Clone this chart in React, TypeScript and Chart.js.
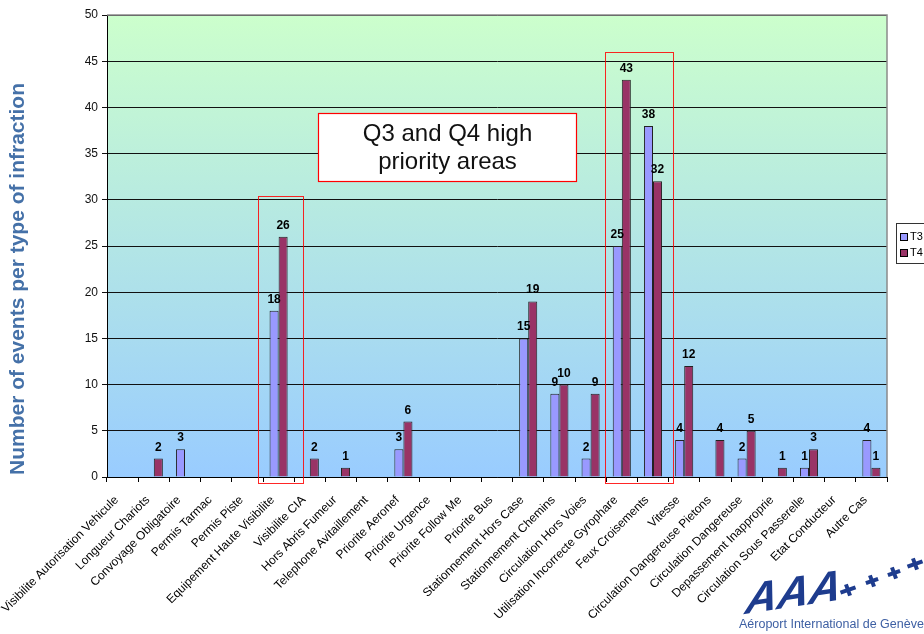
import React, { useEffect, useRef } from "react";
import { Chart, registerables } from "chart.js";

Chart.register(...registerables);

const categories = [
  "Visibilite Autorisation Vehicule",
  "Longueur Chariots",
  "Convoyage Obligatoire",
  "Permis Tarmac",
  "Permis Piste",
  "Equipement Haute Visibilite",
  "Visibilite CIA",
  "Hors Abris Fumeur",
  "Telephone Avitaillement",
  "Priorite Aeronef",
  "Priorite Urgence",
  "Priorite Follow Me",
  "Priorite Bus",
  "Stationnement Hors Case",
  "Stationnement Chemins",
  "Circulation Hors Voies",
  "Utilisation Incorrecte Gyrophare",
  "Feux Croisements",
  "Vitesse",
  "Circulation Dangereuse Pietons",
  "Circulation Dangereuse",
  "Depassement Inapproprie",
  "Circulation Sous Passerelle",
  "Etat Conducteur",
  "Autre Cas",
];

const t3Values = [0, 0, 3, 0, 0, 18, 0, 0, 0, 3, 0, 0, 0, 15, 9, 2, 25, 38, 4, 0, 2, 0, 1, 0, 4];
const t4Values = [0, 2, 0, 0, 0, 26, 2, 1, 0, 6, 0, 0, 0, 19, 10, 9, 43, 32, 12, 4, 5, 1, 3, 0, 1];

const seriesNames = ["T3", "T4"];
const yMin = 0;
const yMax = 50;
const yStep = 5;

const yTitle = "Number of events per type of infraction";
const noteLines = ["Q3 and Q4 high", "priority areas"];
const logoCaption = "Aéroport International de Genève";

// highlight boxes: [fromIndex, toIndex, topValue]
const highlightFrom = [4.34, 15.46];
const highlightTo = [5.78, 17.64];
const highlightTop = [30.4, 46.0];
const highlightBottom = -0.65;

const FONT = "'Liberation Sans', Arial, sans-serif";

const decorPlugin = {
  id: "decor",
  beforeDraw(chart: any) {
    const { ctx, chartArea } = chart;
    const { left, top, right, bottom } = chartArea;
    const g = ctx.createLinearGradient(0, top, 0, bottom);
    g.addColorStop(0, "#CCFFCC");
    g.addColorStop(1, "#99CCFF");
    ctx.save();
    ctx.fillStyle = "#ffffff";
    ctx.fillRect(0, 0, chart.width, chart.height);
    ctx.fillStyle = g;
    ctx.fillRect(left, top, right - left, bottom - top);
    ctx.restore();
  },
  afterDatasetsDraw(chart: any) {
    const { ctx, chartArea } = chart;
    const xs = chart.scales.x;
    const ys = chart.scales.y;
    ctx.save();
    // right & top border
    ctx.strokeStyle = "#8a8a8a";
    ctx.lineWidth = 1.5;
    ctx.beginPath();
    ctx.moveTo(chartArea.left, chartArea.top);
    ctx.lineTo(chartArea.right, chartArea.top);
    ctx.lineTo(chartArea.right, chartArea.bottom);
    ctx.stroke();

    // value labels
    ctx.fillStyle = "#000";
    ctx.font = `bold 12px ${FONT}`;
    ctx.textAlign = "center";
    ctx.textBaseline = "alphabetic";
    chart.data.datasets.forEach((ds: any, di: number) => {
      const meta = chart.getDatasetMeta(di);
      meta.data.forEach((bar: any, i: number) => {
        const v = ds.data[i];
        if (v > 0) ctx.fillText(String(v), bar.x, bar.y - 8);
      });
    });

    // highlight boxes
    ctx.strokeStyle = "rgba(255,0,0,0.85)";
    ctx.lineWidth = 1;
    for (let k = 0; k < highlightFrom.length; k++) {
      const x1 = Math.round(xs.getPixelForValue(highlightFrom[k])) + 0.5;
      const x2 = Math.round(xs.getPixelForValue(highlightTo[k])) + 0.5;
      const y1 = Math.round(ys.getPixelForValue(highlightTop[k])) + 0.5;
      const y2 = Math.round(ys.getPixelForValue(highlightBottom)) + 0.5;
      ctx.strokeRect(x1, y1, x2 - x1, y2 - y1);
    }

    // note box
    const nx1 = Math.round(xs.getPixelForValue(6.26)) + 0.5;
    const nx2 = Math.round(xs.getPixelForValue(14.53)) + 0.5;
    const ny1 = Math.round(ys.getPixelForValue(39.4)) + 0.5;
    const ny2 = Math.round(ys.getPixelForValue(32.0)) + 0.5;
    ctx.fillStyle = "#ffffff";
    ctx.fillRect(nx1, ny1, nx2 - nx1, ny2 - ny1);
    ctx.strokeStyle = "#ff0000";
    ctx.lineWidth = 1.2;
    ctx.strokeRect(nx1, ny1, nx2 - nx1, ny2 - ny1);
    ctx.fillStyle = "#111";
    ctx.font = `24px ${FONT}`;
    ctx.textAlign = "center";
    ctx.textBaseline = "middle";
    const cx = (nx1 + nx2) / 2;
    const cy = (ny1 + ny2) / 2;
    ctx.fillText(noteLines[0], cx, cy - 13);
    ctx.fillText(noteLines[1], cx, cy + 15);
    ctx.restore();
  },
  afterDraw(chart: any) {
    const { ctx } = chart;
    ctx.save();
    // y title
    ctx.translate(18, 279);
    ctx.rotate(-Math.PI / 2);
    ctx.fillStyle = "#4571A8";
    ctx.font = `bold 21px ${FONT}`;
    ctx.textAlign = "center";
    ctx.textBaseline = "middle";
    ctx.fillText(yTitle, 0, 0);
    ctx.restore();

    // legend (partly cut by right edge)
    ctx.save();
    const lx = 896.5, ly = 223.5;
    ctx.fillStyle = "#ffffff";
    ctx.fillRect(lx, ly, 40, 40);
    ctx.strokeStyle = "#333";
    ctx.lineWidth = 1;
    ctx.strokeRect(lx, ly, 40, 40);
    const colors = ["#9999FF", "#993366"];
    ctx.font = `11px ${FONT}`;
    ctx.textBaseline = "middle";
    ctx.textAlign = "left";
    seriesNames.forEach((n, i) => {
      const yy = 237 + i * 16;
      ctx.fillStyle = colors[i];
      ctx.fillRect(900, yy - 3.5, 7, 7);
      ctx.strokeStyle = "#000";
      ctx.strokeRect(900.5, yy - 3.5, 7, 7);
      ctx.fillStyle = "#000";
      ctx.fillText(n, 910, yy);
    });
    ctx.restore();

    // logo
    ctx.save();
    ctx.fillStyle = "#1E3C8E";
    ctx.font = `italic 900 44px ${FONT}`;
    ctx.textBaseline = "alphabetic";
    ctx.textAlign = "left";
    ctx.save();
    ctx.translate(744, 614);
    ctx.transform(1, -0.15, -0.15, 1, 0, 0);
    ctx.fillText("AAA", 0, 0);
    ctx.restore();
    const planes = [
      [848, 590, 16],
      [872, 581, 13],
      [894, 573, 13],
      [915, 564, 16],
    ];
    planes.forEach(([px, py, s]) => {
      ctx.save();
      ctx.translate(px, py);
      ctx.rotate(-0.35);
      ctx.fillRect(-s / 2, -2, s, 4);
      ctx.fillRect(-2, -6, 4, 12);
      ctx.restore();
    });
    ctx.fillStyle = "#3D5FA3";
    ctx.font = `12.5px ${FONT}`;
    ctx.fillText(logoCaption, 739, 628);
    ctx.restore();
  },
};

export default function App() {
  const ref = useRef<HTMLCanvasElement | null>(null);

  useEffect(() => {
    if (!ref.current) return;
    const chart = new Chart(ref.current, {
      type: "bar",
      data: {
        labels: categories,
        datasets: [
          {
            label: seriesNames[0],
            data: t3Values,
            backgroundColor: "#9999FF",
            borderColor: "#222",
            borderWidth: 1,
            categoryPercentage: 0.58,
            barPercentage: 1,
          },
          {
            label: seriesNames[1],
            data: t4Values,
            backgroundColor: "#993366",
            borderColor: "#222",
            borderWidth: 1,
            categoryPercentage: 0.58,
            barPercentage: 1,
          },
        ],
      },
      options: {
        animation: false,
        responsive: true,
        maintainAspectRatio: false,
        layout: { padding: { top: 15, right: 37, left: 0, bottom: 0 } },
        plugins: {
          legend: { display: false },
          tooltip: { enabled: false },
        },
        scales: {
          x: {
            grid: {
              drawOnChartArea: false,
              drawTicks: true,
              tickLength: 5,
              color: "#000",
              offset: true,
            },
            border: { color: "#000", width: 1 },
            ticks: {
              autoSkip: false,
              minRotation: 45,
              maxRotation: 45,
              color: "#000",
              padding: 11,
              labelOffset: -6,
              font: { family: FONT, size: 12 },
            },
            afterFit: (s: any) => {
              s.height = 157;
              s.paddingLeft = 0;
              s.paddingRight = 0;
            },
          },
          y: {
            min: yMin,
            max: yMax,
            ticks: {
              stepSize: yStep,
              color: "#111",
              padding: 4,
              font: { family: FONT, size: 12 },
            },
            grid: {
              color: "#111",
              tickLength: 5,
            },
            border: { color: "#000", width: 1 },
            afterFit: (s: any) => {
              s.width = 107;
            },
          },
        },
      },
      plugins: [decorPlugin],
    });
    return () => chart.destroy();
  }, []);

  return (
    <div style={{ position: "absolute", left: 0, top: 0, width: 924, height: 634, background: "#fff" }}>
      <canvas ref={ref} />
    </div>
  );
}
